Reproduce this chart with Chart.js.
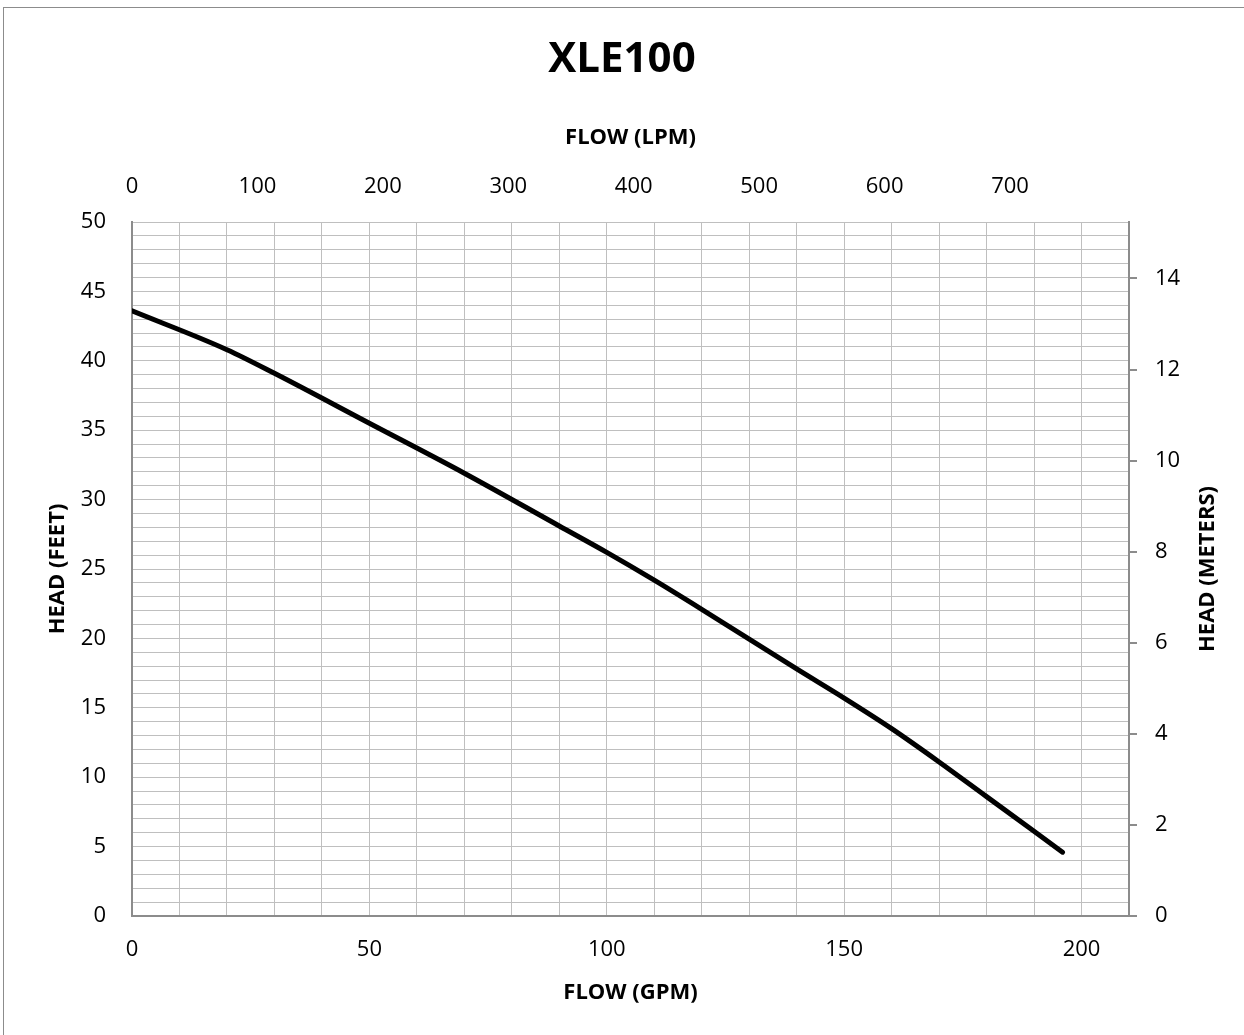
<!DOCTYPE html>
<html>
<head>
  <title>XLE100</title>
  <meta http-equiv="Content-Type" content="text/html; charset=utf-8" />
  <script src="https://cdn.jsdelivr.net/npm/chart.js@4.4.1/dist/chart.umd.min.js"></script>
  <style>
    body {
      margin: 0;
      background-color: #ffffff;
      overflow: hidden;
    }

    #frame {
      position: absolute;
      left: 3px;
      top: 7px;
      width: 1300px;
      height: 1100px;
      border: 1px solid #8c8c8c;
      pointer-events: none;
    }

    #pump {
      position: absolute;
      left: 0;
      top: 0;
    }
  </style>
</head>
<body>
  <canvas id="pump" width="1244" height="1035"></canvas>
  <div id="frame"></div>
  <script>
    // pump curve, flow in GPM, head in feet
    var flowGpm = [0, 20, 30, 50, 70, 90, 100, 110, 120, 140, 150, 160, 170, 180, 190, 196];
    var headFt = [43.6, 40.8, 39.1, 35.5, 31.9, 28.1, 26.2, 24.2, 22.1, 17.8, 15.7, 13.5, 11.1, 8.6, 6.1, 4.6];

    // secondary axis labels
    var lpmTicks = [0, 100, 200, 300, 400, 500, 600, 700];
    var meterTicks = [0, 2, 4, 6, 8, 10, 12, 14];

    var GPM_MAX = 210;
    var FT_MAX = 50;
    var LPM_PER_GPM = 3.785;
    var M_PER_FT = 0.3048;

    var gridGray = '#bfbfbf';
    var axisGray = '#8c8c8c';
    var labelFont = { size: 22 };
    var titleFont = { size: 22, weight: 'bold' };

    Chart.defaults.font.family = "'Open Sans', sans-serif";
    Chart.defaults.color = '#000000';

    var points = flowGpm.map(function (g, i) {
      return { x: g, y: headFt[i] };
    });

    function fixedTicks(list) {
      return function (s) {
        s.ticks = list.map(function (v) { return { value: v }; });
      };
    }

    // right axis title reads bottom-to-top like the left one
    var meterTitle = {
      id: 'meterTitle',
      afterDraw: function (c) {
        var a = c.chartArea;
        var g = c.ctx;
        g.save();
        g.translate(1208, (a.top + a.bottom) / 2);
        g.rotate(-Math.PI / 2);
        g.font = "bold 22px 'Open Sans', sans-serif";
        g.fillStyle = '#000000';
        g.textAlign = 'center';
        g.textBaseline = 'middle';
        g.fillText('HEAD (METERS)', 0, 0);
        g.restore();
      }
    };

    var ctx = document.getElementById("pump");
    var chart = new Chart(ctx, {
      type: 'line',
      data: {
        datasets: [{
          data: points,
          borderColor: '#000000',
          borderWidth: 5,
          borderCapStyle: 'round',
          pointRadius: 0,
          cubicInterpolationMode: 'monotone',
          xAxisID: 'x',
          yAxisID: 'y'
        }]
      },
      options: {
        responsive: false,
        animation: false,
        layout: { padding: 0 },
        plugins: {
          legend: { display: false },
          tooltip: { enabled: false },
          title: {
            display: true,
            text: 'XLE100',
            font: { size: 42, weight: 'bold' },
            padding: { top: 35, bottom: 0 }
          }
        },
        scales: {
          x: {
            type: 'linear',
            position: 'bottom',
            min: 0,
            max: GPM_MAX,
            grid: { color: gridGray, drawTicks: false },
            border: { color: axisGray, width: 2 },
            ticks: {
              stepSize: 10,
              padding: 21,
              font: labelFont,
              callback: function (v) { return v % 50 === 0 ? v : ''; }
            },
            title: {
              display: true,
              text: 'FLOW (GPM)',
              font: titleFont,
              padding: { top: 0, bottom: 29 }
            },
            afterFit: function (s) { s.height = 119; }
          },
          x2: {
            type: 'linear',
            position: 'top',
            min: 0,
            max: GPM_MAX * LPM_PER_GPM,
            grid: { display: false, drawTicks: false },
            border: { display: false },
            ticks: { padding: 22, font: labelFont },
            afterBuildTicks: fixedTicks(lpmTicks),
            title: {
              display: true,
              text: 'FLOW (LPM)',
              font: titleFont,
              padding: { top: 39, bottom: 0 }
            },
            afterFit: function (s) { s.height = 222 - 85.4; }
          },
          y: {
            type: 'linear',
            position: 'left',
            min: 0,
            max: FT_MAX,
            grid: { color: gridGray, drawTicks: false },
            border: { color: axisGray, width: 2 },
            ticks: {
              stepSize: 1,
              padding: 26,
              autoSkip: false,
              font: labelFont,
              callback: function (v) { return v % 5 === 0 ? v : ''; }
            },
            title: {
              display: true,
              text: 'HEAD (FEET)',
              font: titleFont,
              padding: { top: 45, bottom: 0 }
            },
            afterFit: function (s) { s.width = 132; }
          },
          y2: {
            type: 'linear',
            position: 'right',
            min: 0,
            max: FT_MAX * M_PER_FT,
            grid: {
              drawOnChartArea: false,
              drawTicks: true,
              tickLength: 8,
              color: axisGray,
              lineWidth: 2
            },
            border: { color: axisGray, width: 2 },
            ticks: { padding: 18, font: labelFont },
            afterBuildTicks: fixedTicks(meterTicks),
            title: { display: false },
            afterFit: function (s) { s.width = 1244 - 1129; }
          }
        }
      },
      plugins: [meterTitle]
    });
  </script>
</body>
</html>
